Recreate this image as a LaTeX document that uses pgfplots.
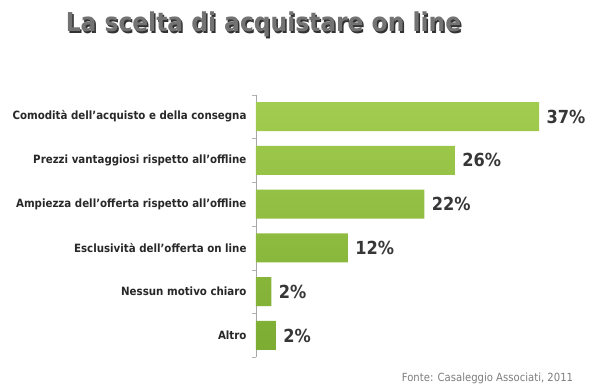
\documentclass[border=0pt]{standalone}
\usepackage{pgfplots}
\pgfplotsset{compat=1.18}
\usepackage{fontspec}
\setmainfont{DejaVu Sans Condensed}
\definecolor{barTop}{RGB}{162,204,80}
\definecolor{barBot}{RGB}{124,172,50}
\definecolor{txt}{RGB}{40,40,40}
\definecolor{valtxt}{RGB}{55,55,55}
\definecolor{titlegray}{RGB}{115,115,115}
\definecolor{titleshadow}{RGB}{50,50,50}
\definecolor{foot}{RGB}{125,125,125}
\begin{document}
\begin{tikzpicture}
\path[use as bounding box] (0,0) rectangle (600pt,390pt);
\begin{axis}[
  at={(256pt,32.6pt)}, anchor=south west,
  scale only axis, width=334pt, height=262.8pt,
  xmin=0, xmax=43.66, ymin=-0.5, ymax=5.5,
  xbar, bar width=29pt, bar shift=0pt,
  axis x line=none, axis y line=left,
  y axis line style={-, draw=black!35},
  ytick={0,1,2,3,4,5},
  yticklabels={Altro, Nessun motivo chiaro, Esclusività dell'offerta on line, Ampiezza dell'offerta rispetto all'offline, Prezzi vantaggiosi rispetto all'offline, Comodità dell'acquisto e della consegna},
  yticklabel style={font=\bfseries\fontsize{11.4}{13}\selectfont, text=txt, xshift=-6pt},
  major tick length=0pt,
  minor ytick={-0.5,0.5,1.5,2.5,3.5,4.5,5.5},
  minor tick length=4pt, tick align=outside,
  minor tick style={draw=black!30},
  point meta=explicit symbolic,
  nodes near coords={\pgfplotspointmeta\%},
  nodes near coords style={font=\bfseries\fontsize{18}{20}\selectfont, text=valtxt, anchor=west, xshift=4pt},
]
\addplot[draw=none, top color=barTop, bottom color=barBot] table[x=v, y=y, meta=lab] {
v    y  lab
37   5  37
26   4  26
22   3  22
12   2  12
2    1  2
2.6  0  2
};
\end{axis}
\node[text=titleshadow, font=\bfseries\fontsize{26}{30}\selectfont] at (265pt,364pt) {La scelta di acquistare on line};
\node[text=titlegray, font=\bfseries\fontsize{26}{30}\selectfont] at (263.5pt,365.5pt) {La scelta di acquistare on line};
\node[text=foot, font=\fontsize{11.2}{13}\selectfont] at (487.5pt,12pt) {Fonte: Casaleggio Associati, 2011};
\end{tikzpicture}
\end{document}
